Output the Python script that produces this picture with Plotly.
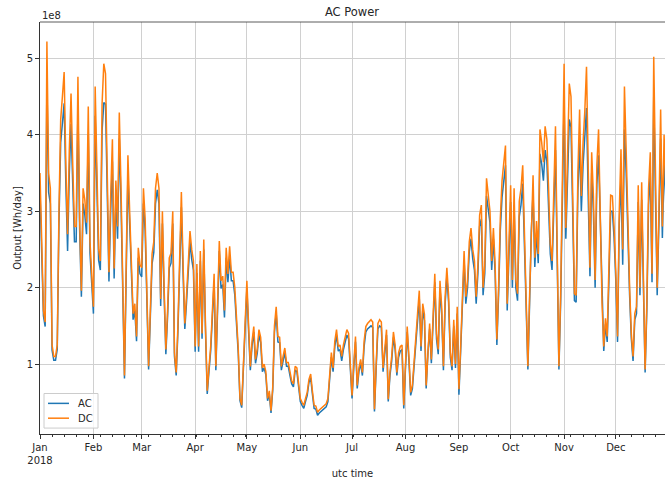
import plotly.graph_objects as go
import pandas as pd

# ---- data (units of 1e8 Wh/day) ----
start_date = "2018-01-01"
n_days = 365

dc_values = [
    3.5, 2.4, 1.7, 1.55, 5.22, 3.5, 3.3, 1.25, 1.1, 1.1,
    1.25, 3.0, 4.2, 4.5, 4.82, 3.6, 2.7, 3.8, 4.54, 3.6,
    2.8, 2.8, 4.76, 2.9, 1.96, 3.3, 3.15, 2.85, 4.37, 2.6,
    2.15, 1.75, 4.63, 3.6, 2.5, 2.35, 4.4, 4.93, 4.8, 3.5,
    2.2, 3.2, 3.94, 2.25, 3.4, 2.8, 4.29, 3.3, 2.0, 0.85,
    2.3, 3.73, 3.0, 2.2, 1.66, 1.79, 1.36, 2.52, 2.3, 2.26,
    3.3, 2.9, 1.8, 0.97, 1.7, 2.44, 2.6, 3.3, 3.5, 3.3,
    1.85, 3.0, 2.0, 1.19, 1.7, 2.39, 2.45, 3.0, 1.15, 0.89,
    1.5, 2.4, 3.25, 2.3, 1.53, 1.9, 2.4, 2.74, 2.5, 2.35,
    1.23, 2.31, 1.23, 2.48, 1.4, 2.63, 1.5, 0.65, 0.95, 1.23,
    1.7, 2.18, 0.97, 1.8, 2.61, 2.09, 2.15, 1.7, 2.52, 2.18,
    2.54, 2.2, 2.2, 2.0, 1.6, 1.2, 0.55, 0.46, 1.0, 1.6,
    2.09, 1.5, 0.97, 1.3, 1.49, 1.06, 1.2, 1.45, 1.35, 0.95,
    1.0, 0.9, 0.55, 0.65, 0.39, 0.7, 1.5, 1.75, 1.36, 1.35,
    0.97, 1.1, 1.21, 1.02, 1.02, 0.9, 0.78, 0.74, 0.97, 0.95,
    0.72, 0.55, 0.5, 0.46, 0.55, 0.63, 0.8, 0.87, 0.65, 0.46,
    0.45, 0.37, 0.4, 0.42, 0.44, 0.46, 0.48, 0.55, 0.8, 1.15,
    0.95, 1.3, 1.45, 1.23, 1.25, 1.1, 1.25, 1.35, 1.45, 1.4,
    0.9, 0.59, 1.0, 1.36, 0.72, 0.95, 1.06, 0.89, 1.3, 1.49,
    1.53, 1.55, 1.58, 1.55, 0.41, 1.0, 1.53, 1.58, 1.55, 0.95,
    1.2, 1.45, 0.54, 0.9, 1.1, 1.42, 1.25, 0.89, 1.15, 1.23,
    1.25, 0.46, 1.0, 1.49, 1.1, 0.63, 0.72, 1.0, 1.3, 1.66,
    1.96, 1.23, 1.79, 1.65, 0.72, 1.2, 1.53, 1.06, 1.6, 2.18,
    1.4, 1.19, 2.09, 1.75, 0.97, 1.88, 2.26, 1.9, 1.15, 0.97,
    1.58, 1.0, 1.75, 0.67, 1.23, 1.83, 2.48, 1.88, 2.1, 2.6,
    2.78, 2.5, 2.35, 1.88, 2.3, 2.95, 3.08, 2.0, 2.3, 3.43,
    3.2, 3.0, 2.35, 2.78, 2.3, 1.32, 2.0, 2.9, 3.4, 3.6,
    3.86, 1.79, 2.6, 3.34, 2.1, 3.3, 2.1, 1.92, 3.13, 3.3,
    3.6, 2.7, 1.5, 0.97, 1.9, 2.9, 3.47, 2.39, 2.87, 2.44,
    4.07, 3.9, 3.64, 4.11, 3.94, 3.3, 2.57, 2.35, 3.2, 4.11,
    2.5, 0.97, 1.9, 3.5, 4.93, 2.78, 3.8, 4.67, 4.5, 3.2,
    1.92, 1.9, 3.5, 4.33, 3.2, 3.9, 4.3, 4.89, 3.4, 2.26,
    3.77, 3.2, 2.1, 3.6, 4.07, 3.0, 1.8, 1.23, 1.6, 1.36,
    2.2, 3.21, 3.2, 2.8, 2.2, 1.36, 3.0, 3.81, 2.5, 4.63,
    3.8, 2.8, 2.0, 1.4, 1.1, 1.66, 1.75, 3.34, 2.0, 3.38,
    2.0, 0.93, 1.8, 3.3, 3.77, 2.18, 5.02, 3.4, 2.0, 3.0,
    4.33, 2.8, 4.0, 3.3, 2.8,
]

ac_values = [
    3.26, 2.28, 1.63, 1.49, 4.7, 3.25, 3.1, 1.18, 1.05, 1.05,
    1.19, 2.85, 3.9, 4.15, 4.41, 3.35, 2.48, 3.5, 4.14, 3.35,
    2.6, 2.6, 4.35, 2.75, 1.88, 3.1, 2.95, 2.7, 4.0, 2.45,
    2.03, 1.66, 4.25, 3.35, 2.36, 2.23, 4.05, 4.42, 4.4, 3.25,
    2.08, 3.0, 3.65, 2.12, 3.18, 2.64, 3.95, 3.1, 1.9, 0.81,
    2.18, 3.48, 2.84, 2.08, 1.58, 1.7, 1.3, 2.39, 2.18, 2.14,
    3.1, 2.74, 1.71, 0.93, 1.62, 2.31, 2.46, 3.1, 3.28, 3.1,
    1.76, 2.84, 1.9, 1.13, 1.62, 2.26, 2.32, 2.84, 1.1, 0.85,
    1.43, 2.27, 3.05, 2.18, 1.46, 1.81, 2.27, 2.6, 2.37, 2.23,
    1.16, 2.19, 1.16, 2.35, 1.33, 2.5, 1.43, 0.61, 0.9, 1.17,
    1.62, 2.07, 0.92, 1.71, 2.48, 1.99, 2.04, 1.61, 2.39, 2.07,
    2.41, 2.09, 2.09, 1.9, 1.52, 1.14, 0.52, 0.43, 0.95, 1.52,
    1.99, 1.43, 0.92, 1.24, 1.42, 1.01, 1.14, 1.38, 1.28, 0.9,
    0.95, 0.86, 0.52, 0.61, 0.36, 0.66, 1.42, 1.66, 1.29, 1.28,
    0.92, 1.04, 1.15, 0.97, 0.97, 0.85, 0.74, 0.7, 0.92, 0.9,
    0.68, 0.51, 0.46, 0.42, 0.51, 0.59, 0.76, 0.82, 0.61, 0.42,
    0.41, 0.33, 0.36, 0.38, 0.4, 0.42, 0.44, 0.51, 0.76, 1.09,
    0.9, 1.23, 1.38, 1.17, 1.19, 1.04, 1.19, 1.28, 1.38, 1.33,
    0.85, 0.55, 0.95, 1.29, 0.68, 0.9, 1.01, 0.85, 1.23, 1.42,
    1.46, 1.48, 1.5, 1.48, 0.38, 0.95, 1.46, 1.5, 1.48, 0.9,
    1.14, 1.38, 0.51, 0.85, 1.04, 1.35, 1.19, 0.85, 1.09, 1.17,
    1.19, 0.42, 0.95, 1.42, 1.04, 0.59, 0.68, 0.95, 1.23, 1.58,
    1.86, 1.17, 1.7, 1.57, 0.68, 1.14, 1.46, 1.01, 1.52, 2.07,
    1.33, 1.13, 1.99, 1.66, 0.92, 1.79, 2.15, 1.81, 1.09, 0.92,
    1.5, 0.95, 1.66, 0.6, 1.17, 1.74, 2.36, 1.79, 2.0, 2.47,
    2.64, 2.38, 2.23, 1.79, 2.19, 2.8, 2.9, 1.9, 2.19, 3.2,
    3.0, 2.85, 2.23, 2.64, 2.19, 1.25, 1.9, 2.75, 3.18, 3.36,
    3.6, 1.7, 2.47, 3.12, 2.0, 3.08, 2.0, 1.83, 2.93, 3.08,
    3.36, 2.56, 1.43, 0.93, 1.81, 2.75, 3.24, 2.27, 2.72, 2.32,
    3.75, 3.62, 3.4, 3.8, 3.65, 3.08, 2.44, 2.23, 3.0, 3.8,
    2.38, 0.93, 1.81, 3.26, 4.45, 2.64, 3.53, 4.2, 4.1, 3.0,
    1.83, 1.81, 3.26, 3.9, 3.0, 3.6, 3.95, 4.35, 3.17, 2.15,
    3.5, 3.0, 2.0, 3.35, 3.73, 2.84, 1.71, 1.17, 1.52, 1.29,
    2.09, 3.0, 3.0, 2.65, 2.09, 1.29, 2.84, 3.43, 2.3, 4.07,
    3.5, 2.65, 1.9, 1.33, 1.04, 1.58, 1.66, 3.12, 1.9, 3.15,
    1.9, 0.89, 1.71, 3.08, 3.5, 2.07, 4.5, 3.17, 1.9, 2.84,
    3.95, 2.65, 3.7, 3.08, 2.65,
]

series_names = ["AC", "DC"]
series_colors = ["#1f77b4", "#ff7f0e"]

month_ticks = ["2018-01-01", "2018-02-01", "2018-03-01", "2018-04-01",
               "2018-05-01", "2018-06-01", "2018-07-01", "2018-08-01",
               "2018-09-01", "2018-10-01", "2018-11-01", "2018-12-01"]
month_labels = ["Jan<br>2018", "Feb", "Mar", "Apr", "May", "Jun",
                "Jul", "Aug", "Sep", "Oct", "Nov", "Dec"]
y_ticks = [1, 2, 3, 4, 5]

dates = pd.date_range(start_date, periods=n_days, freq="D")

FONT = "DejaVu Sans"
TXT = "#262626"
AXC = "#333333"

fig = go.Figure()
for name, vals, col in zip(series_names, [ac_values, dc_values], series_colors):
    fig.add_trace(go.Scatter(x=dates, y=vals, mode="lines", name=name,
                             showlegend=False,
                             line=dict(color=col, width=1.5)))

# plot area: x 40..665 px, y 22..439 px ; 1.724 px / day
W, H = 665, 479
L, T, B = 40, 22, 40
PW, PH = W - L, H - T - B
x_end = pd.Timestamp(start_date) + pd.Timedelta(days=(W - L) / 1.724)


def px(x):
    return (x - L) / PW


def py(y):
    return (H - B - y) / PH


fig.update_layout(
    width=W, height=H,
    margin=dict(l=L, r=0, t=T, b=B),
    paper_bgcolor="white", plot_bgcolor="white",
    font=dict(family=FONT, size=10, color=TXT),
    title=dict(text="AC Power", x=352 / W, xanchor="center",
               y=1 - 12 / H, yanchor="middle",
               font=dict(family=FONT, size=11.5, color=TXT)),
    xaxis=dict(
        type="date", range=[pd.Timestamp(start_date), x_end],
        tickvals=month_ticks, ticktext=month_labels,
        ticks="outside", ticklen=4, tickcolor=AXC, tickwidth=0.8,
        showgrid=True, gridcolor="#d0d0d0", gridwidth=0.8,
        showline=True, linecolor=AXC, linewidth=0.8, mirror=False,
        zeroline=False, tickfont=dict(size=10, color=TXT),
        minor=dict(ticks="outside", ticklen=2, tickcolor=AXC,
                   dtick=7 * 86400000, tick0="2018-01-01", showgrid=False),
        title=dict(text="utc time", font=dict(size=10, color=TXT), standoff=6),
    ),
    yaxis=dict(
        range=[0.085, 5.475], tickvals=y_ticks, ticktext=[str(v) for v in y_ticks],
        ticks="outside", ticklen=4, tickcolor=AXC, tickwidth=0.8,
        showgrid=True, gridcolor="#d0d0d0", gridwidth=0.8,
        showline=True, linecolor=AXC, linewidth=0.8,
        zeroline=False, tickfont=dict(size=10, color=TXT),
        title=dict(text="Output [Wh/day]", font=dict(size=10, color=TXT), standoff=3),
    ),
)

# top spine
fig.add_shape(type="line", xref="paper", yref="paper", x0=0, x1=1, y0=1, y1=1,
              line=dict(color=AXC, width=0.8))

# offset text for the y axis ("1e8"), just above the top-left corner
fig.add_annotation(text="1e8", xref="paper", yref="paper", x=0, y=1,
                   xanchor="left", yanchor="bottom", showarrow=False,
                   yshift=-1, font=dict(size=10, color=TXT))

# legend box (matplotlib style)
fig.add_shape(type="rect", xref="paper", yref="paper",
              x0=px(44), x1=px(98), y0=py(433), y1=py(398),
              line=dict(color="#cccccc", width=1),
              fillcolor="rgba(255,255,255,0.8)", layer="above")
for i, (name, col) in enumerate(zip(series_names, series_colors)):
    yy = 408 + 15 * i
    fig.add_shape(type="line", xref="paper", yref="paper",
                  x0=px(48), x1=px(69), y0=py(yy), y1=py(yy),
                  line=dict(color=col, width=1.5), layer="above")
    fig.add_annotation(text=name, xref="paper", yref="paper",
                       x=px(76), y=py(yy), xanchor="left", yanchor="middle",
                       showarrow=False, font=dict(size=10, color=TXT))

fig.write_html("out.html", config={"displayModeBar": False},
               post_script="document.body.style.margin='0px';")
